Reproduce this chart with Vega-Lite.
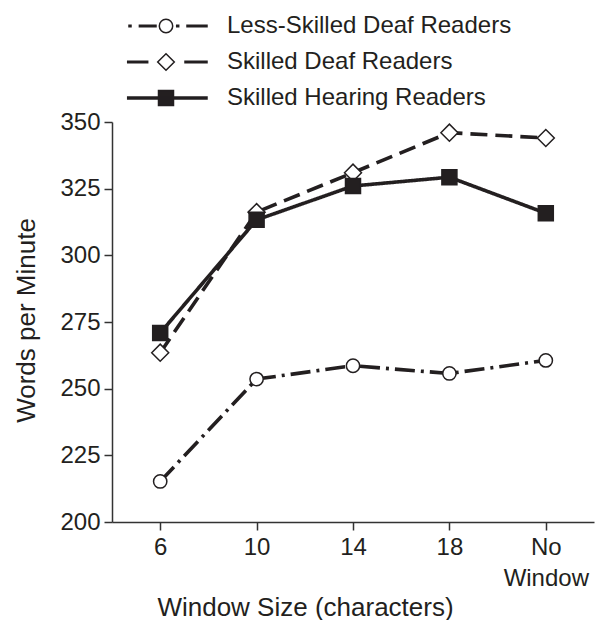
{
  "$schema": "https://vega.github.io/schema/vega-lite/v6.json",
  "width": 482,
  "height": 400,
  "autosize": {"type": "none"},
  "padding": {"left": 112, "top": 122, "right": 3, "bottom": 98},
  "background": "white",
  "config": {"view": {"stroke": null}, "font": "Liberation Sans"},
  "data": {
    "values": [
      {"group": "Less-Skilled Deaf Readers", "window": "6", "wpm": 215.2},
      {"group": "Less-Skilled Deaf Readers", "window": "10", "wpm": 253.6},
      {"group": "Less-Skilled Deaf Readers", "window": "14", "wpm": 258.6},
      {"group": "Less-Skilled Deaf Readers", "window": "18", "wpm": 255.7},
      {"group": "Less-Skilled Deaf Readers", "window": "No Window", "wpm": 260.6},
      {"group": "Skilled Deaf Readers", "window": "6", "wpm": 263.5},
      {"group": "Skilled Deaf Readers", "window": "10", "wpm": 316.2},
      {"group": "Skilled Deaf Readers", "window": "14", "wpm": 331.0},
      {"group": "Skilled Deaf Readers", "window": "18", "wpm": 346.0},
      {"group": "Skilled Deaf Readers", "window": "No Window", "wpm": 344.0},
      {"group": "Skilled Hearing Readers", "window": "6", "wpm": 270.9},
      {"group": "Skilled Hearing Readers", "window": "10", "wpm": 313.3},
      {"group": "Skilled Hearing Readers", "window": "14", "wpm": 326.0},
      {"group": "Skilled Hearing Readers", "window": "18", "wpm": 329.3},
      {"group": "Skilled Hearing Readers", "window": "No Window", "wpm": 315.8}
    ]
  },
  "encoding": {
    "x": {
      "field": "window",
      "type": "ordinal",
      "sort": ["6", "10", "14", "18", "No Window"],
      "scale": {"type": "point", "padding": 0.5},
      "axis": {
        "title": "Window Size (characters)",
        "titleFontSize": 26,
        "titleFontWeight": "normal",
        "titleColor": "#231f20",
        "titleX": 193,
        "titleY": 93,
        "titleAlign": "center",
        "titleBaseline": "alphabetic",
        "labelAngle": 0,
        "labelFontSize": 24,
        "labelColor": "#231f20",
        "labelPadding": 5,
        "labelLineHeight": 31,
        "labelExpr": "datum.value === 'No Window' ? ['No', 'Window'] : datum.value",
        "tickSize": 8,
        "tickWidth": 1.5,
        "tickColor": "#333333",
        "domainColor": "#333333",
        "domainWidth": 1.5,
        "grid": false
      }
    },
    "y": {
      "field": "wpm",
      "type": "quantitative",
      "scale": {"domain": [200, 350], "nice": false, "zero": false},
      "axis": {
        "title": "Words per Minute",
        "titleFontSize": 26,
        "titleFontWeight": "normal",
        "titleColor": "#231f20",
        "titleX": -78,
        "titleY": 198,
        "titleAlign": "center",
        "titleBaseline": "alphabetic",
        "values": [200, 225, 250, 275, 300, 325, 350],
        "labelFontSize": 24,
        "labelColor": "#231f20",
        "labelPadding": 4,
        "tickSize": 8,
        "tickWidth": 1.5,
        "tickColor": "#333333",
        "domainColor": "#333333",
        "domainWidth": 1.5,
        "grid": false
      }
    }
  },
  "layer": [
    {
      "mark": {"type": "line", "strokeWidth": 3.6, "color": "#231f20"},
      "encoding": {
        "detail": {"field": "group", "type": "nominal"},
        "strokeDash": {
          "condition": [
            {"test": "datum.group === 'Less-Skilled Deaf Readers'", "value": [20, 6, 3, 6]},
            {"test": "datum.group === 'Skilled Deaf Readers'", "value": [17, 8]}
          ],
          "value": [1, 0]
        }
      }
    },
    {
      "mark": {"type": "point", "filled": true, "strokeWidth": 1.5, "stroke": "#231f20", "opacity": 1},
      "encoding": {
        "shape": {
          "condition": [
            {"test": "datum.group === 'Less-Skilled Deaf Readers'", "value": "circle"},
            {"test": "datum.group === 'Skilled Deaf Readers'", "value": "diamond"}
          ],
          "value": "square"
        },
        "fill": {
          "condition": {"test": "datum.group === 'Skilled Hearing Readers'", "value": "#231f20"},
          "value": "white"
        },
        "size": {
          "condition": [
            {"test": "datum.group === 'Less-Skilled Deaf Readers'", "value": 177},
            {"test": "datum.group === 'Skilled Deaf Readers'", "value": 289}
          ],
          "value": 225
        }
      }
    },
    {
      "mark": {"type": "point", "filled": true, "strokeWidth": 1.5, "opacity": 0},
      "encoding": {
        "shape": {
          "field": "group",
          "type": "nominal",
          "scale": {
            "domain": ["Less-Skilled Deaf Readers", "Skilled Deaf Readers", "Skilled Hearing Readers"],
            "range": [
              "M-3.7,-0.07H-3.5V0.07H-3.7Z M-2.66,-0.07H-1.0V0.07H-2.66Z M0.67,0A0.67,0.67 0 1,1 -0.67,0A0.67,0.67 0 1,1 0.67,0Z M1.07,-0.07H1.27V0.07H1.07Z M2.1,-0.07H4.1V0.07H2.1Z",
              "M-3.83,-0.07H-1.83V0.07H-3.83Z M0,-0.83L0.83,0L0,0.83L-0.83,0Z M1.9,-0.07H4.1V0.07H1.9Z",
              "M-3.83,-0.1H4.1V0.1H-3.83Z M-0.75,-0.75H0.75V0.75H-0.75Z"
            ]
          },
          "legend": {
            "title": null,
            "orient": "none",
            "legendX": 42,
            "legendY": -108,
            "padding": 0,
            "symbolSize": 400,
            "symbolStrokeWidth": 1.5,
            "symbolOpacity": 1,
            "labelOffset": 49,
            "labelFontSize": 24,
            "labelFont": "Liberation Sans",
            "labelColor": "#231f20",
            "labelLimit": 500,
            "rowPadding": 12
          }
        },
        "fill": {
          "field": "group",
          "type": "nominal",
          "scale": {
            "domain": ["Less-Skilled Deaf Readers", "Skilled Deaf Readers", "Skilled Hearing Readers"],
            "range": ["white", "white", "#231f20"]
          },
          "legend": {
            "title": null,
            "orient": "none",
            "legendX": 42,
            "legendY": -108,
            "padding": 0,
            "symbolSize": 400,
            "symbolStrokeWidth": 1.5,
            "symbolOpacity": 1,
            "labelOffset": 49,
            "labelFontSize": 24,
            "labelFont": "Liberation Sans",
            "labelColor": "#231f20",
            "labelLimit": 500,
            "rowPadding": 12
          }
        },
        "stroke": {
          "field": "group",
          "type": "nominal",
          "scale": {
            "domain": ["Less-Skilled Deaf Readers", "Skilled Deaf Readers", "Skilled Hearing Readers"],
            "range": ["#231f20", "#231f20", "#231f20"]
          },
          "legend": {
            "title": null,
            "orient": "none",
            "legendX": 42,
            "legendY": -108,
            "padding": 0,
            "symbolSize": 400,
            "symbolStrokeWidth": 1.5,
            "symbolOpacity": 1,
            "labelOffset": 49,
            "labelFontSize": 24,
            "labelFont": "Liberation Sans",
            "labelColor": "#231f20",
            "labelLimit": 500,
            "rowPadding": 12
          }
        }
      }
    }
  ]
}
